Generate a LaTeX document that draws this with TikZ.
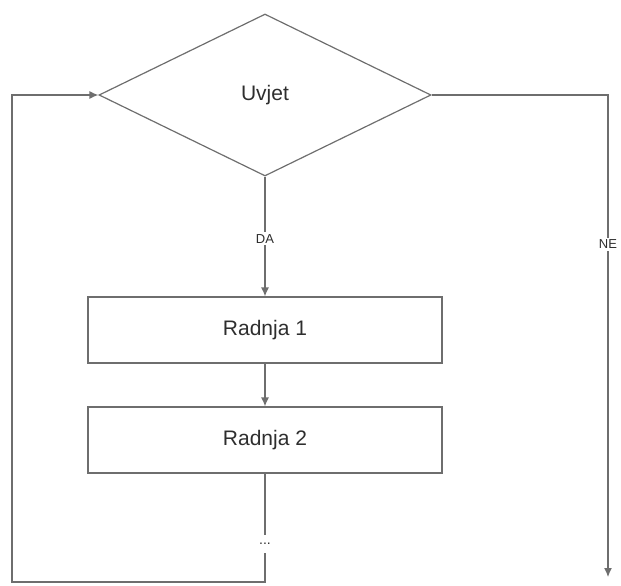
\documentclass[tikz,border=0pt]{standalone}
\usepackage{fontspec}
\setmainfont{Liberation Sans}
\usetikzlibrary{shapes.geometric,arrows.meta}
\definecolor{linec}{HTML}{6E6E6E}
\definecolor{textc}{HTML}{2E2E2E}
\begin{document}
\begin{tikzpicture}[x=1pt,y=-1pt,
  every node/.style={text=textc},
  conn/.style={draw=linec,line width=1.2pt},
  arr/.style={conn,-{Latex[length=9pt,width=8pt]}},
  decide/.style={diamond,draw=linec,line width=1.2pt,minimum width=332pt,minimum height=162pt,inner sep=0pt,font=\fontsize{21}{24}\selectfont},
  actbox/.style={rectangle,draw=linec,line width=1.2pt,minimum width=354pt,minimum height=66pt,inner sep=0pt,font=\fontsize{21}{24}\selectfont},
  lbl/.style={fill=white,inner sep=2pt,font=\fontsize{13}{15}\selectfont}]
\useasboundingbox (0,0) rectangle (621,586);
\node[decide] (cond) at (265,95) {Uvjet};
\node[actbox] (r1) at (265,330) {Radnja 1};
\node[actbox] (r2) at (265,440) {Radnja 2};
\node[inner sep=0pt,minimum height=18pt,font=\fontsize{14}{16}\selectfont] (dots) at (265,544) {...};
\coordinate (bm) at (265,582);
\coordinate (bl) at (12,582);
\coordinate (tl) at (12,95);
\coordinate (tr) at (608,95);
\coordinate (br) at (608,577);
\draw[arr] (cond.south) -- node[lbl,pos=0.52] (da) {DA} (r1.north);
\draw[arr] (r1.south) -- (r2.north);
\draw[conn] (r2.south) -- (dots.north);
\draw[arr] (dots.south) -- (bm) -- (bl) -- (tl) -- (cond.west);
\draw[arr] (cond.east) -- (tr) -- node[lbl,pos=0.31] (ne) {NE} (br);
\end{tikzpicture}
\end{document}
